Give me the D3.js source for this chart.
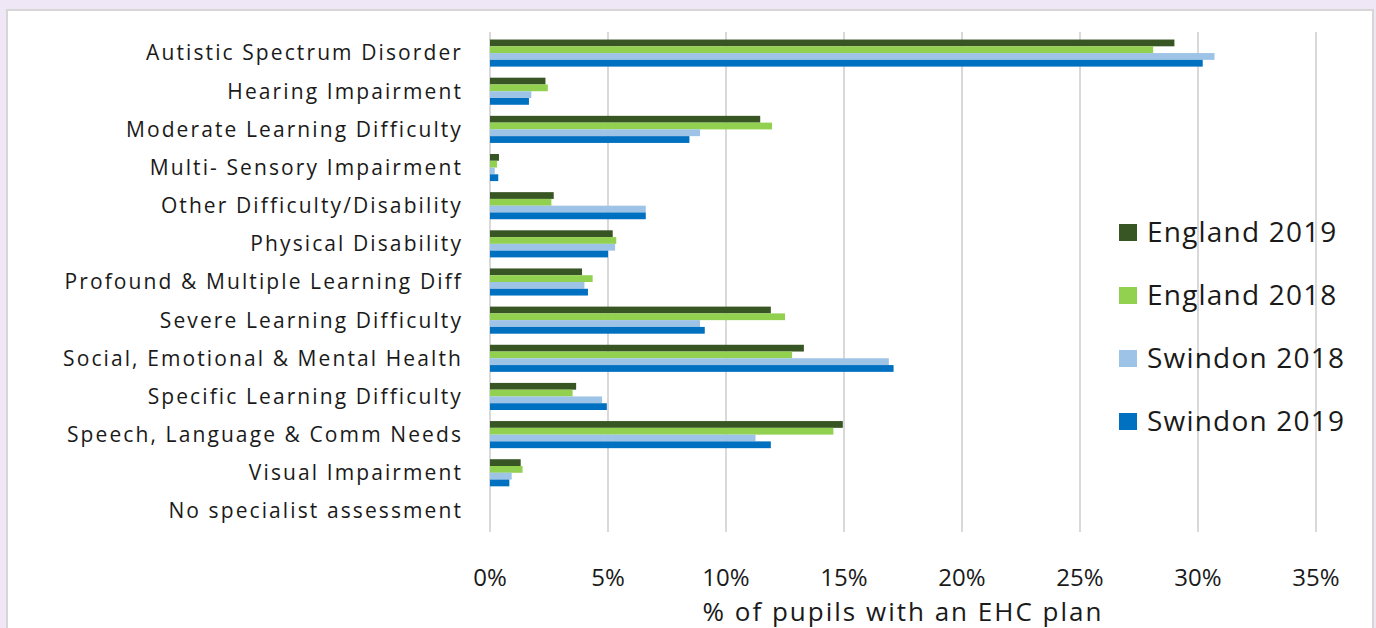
<!DOCTYPE html>
<html><head><meta charset="utf-8">
<script src="https://cdn.jsdelivr.net/npm/d3@7/dist/d3.min.js"></script>
<style>
html,body{margin:0;padding:0;background:#efe6f6;}
svg{display:block;}
text{font-family:"Open Sans",sans-serif;fill:#1a1a1a;}
</style></head>
<body>
<script>
const categories = ["Autistic Spectrum Disorder","Hearing Impairment","Moderate Learning Difficulty","Multi- Sensory Impairment","Other Difficulty/Disability","Physical Disability","Profound & Multiple Learning Diff","Severe Learning Difficulty","Social, Emotional & Mental Health","Specific Learning Difficulty","Speech, Language & Comm Needs","Visual Impairment","No specialist assessment"];
const seriesNames = ["England 2019","England 2018","Swindon 2018","Swindon 2019"];
const england2019 = [29.0,2.35,11.45,0.38,2.7,5.2,3.9,11.9,13.3,3.65,14.95,1.3,0];
const england2018 = [28.1,2.45,11.95,0.3,2.6,5.35,4.35,12.5,12.8,3.5,14.55,1.38,0];
const swindon2018 = [30.7,1.75,8.9,0.2,6.6,5.3,4.0,8.9,16.9,4.75,11.25,0.92,0];
const swindon2019 = [30.2,1.65,8.45,0.35,6.6,5.0,4.15,9.1,17.1,4.95,11.9,0.82,0];
const seriesValues = [england2019, england2018, swindon2018, swindon2019];
const colors = ["#375623","#92d050","#9dc3e6","#0070c0"];
const xTicks = [0,5,10,15,20,25,30,35];
const xTitle = "% of pupils with an EHC plan";

const W=1376,H=628;
const svg=d3.select("body").append("svg").attr("width",W).attr("height",H);
// panel
svg.append("rect").attr("x",7).attr("y",10).attr("width",1366).attr("height",640)
  .attr("fill","#fff").attr("stroke","#d6d6d6").attr("stroke-width",2);

const x=d3.scaleLinear().domain([0,35]).range([490,1316]);
const y=d3.scaleBand().domain(categories).range([34,530]).paddingInner(0.29).paddingOuter(0.145);
const ys=d3.scaleBand().domain(seriesNames).range([0,y.bandwidth()]);

// grid
svg.append("g").selectAll("line").data(xTicks).join("line")
  .attr("x1",d=>x(d)).attr("x2",d=>x(d)).attr("y1",32).attr("y2",532)
  .attr("stroke","#d9d9d9").attr("stroke-width",2);

// bars
const g=svg.append("g");
seriesNames.forEach((s,si)=>{
  g.append("g").selectAll("rect").data(seriesValues[si]).join("rect")
    .attr("x",x(0)).attr("y",(d,i)=>y(categories[i])+ys(s))
    .attr("width",d=>x(d)-x(0)).attr("height",ys.bandwidth())
    .attr("fill",colors[si]);
});

// category labels
svg.append("g").selectAll("text").data(categories).join("text")
  .attr("x",463).attr("y",d=>y(d)+y.bandwidth()/2).attr("dy","0.35em")
  .attr("text-anchor","end").attr("font-size",21).attr("letter-spacing",2.1).text(d=>d);

// x tick labels
svg.append("g").selectAll("text").data(xTicks).join("text")
  .attr("x",d=>x(d)).attr("y",578).attr("dy","0.35em")
  .attr("text-anchor","middle").attr("font-size",24).text(d=>d+"%");
svg.append("text").attr("x",903).attr("y",612).attr("dy","0.35em")
  .attr("text-anchor","middle").attr("font-size",26).attr("letter-spacing",2).text(xTitle);

// legend
const lg=svg.append("g").selectAll("g").data(seriesNames).join("g")
  .attr("transform",(d,i)=>`translate(1119,${232+i*63})`);
lg.append("rect").attr("x",0).attr("y",-8).attr("width",18).attr("height",17)
  .attr("fill",(d,i)=>colors[i]);
lg.append("text").attr("x",28).attr("y",0).attr("dy","0.35em").attr("font-size",28).attr("letter-spacing",1.2).text(d=>d);
</script>
</body></html>
